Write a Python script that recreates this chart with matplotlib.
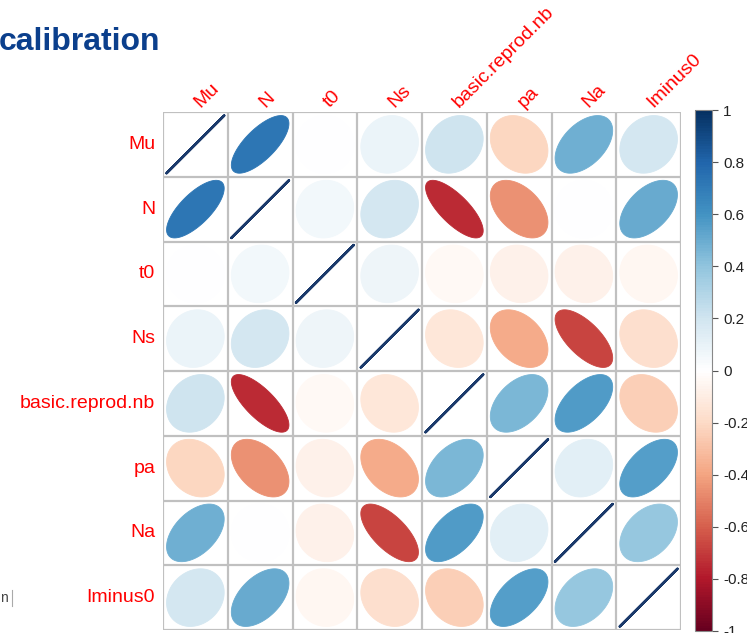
import numpy as np
import matplotlib
matplotlib.use("Agg")
import matplotlib.pyplot as plt
from matplotlib.colors import LinearSegmentedColormap, Normalize
from matplotlib.patches import Polygon
from matplotlib.colorbar import ColorbarBase

plt.rcParams['font.family'] = ['Liberation Sans', 'DejaVu Sans']

labels = ["Mu", "N", "t0", "Ns", "basic.reprod.nb", "pa", "Na", "Iminus0"]

row_mu      = [1.00,  0.72,  0.00,  0.08,  0.20, -0.22,  0.48,  0.18]
row_n       = [0.72,  1.00,  0.05,  0.18, -0.75, -0.46,  0.00,  0.50]
row_t0      = [0.00,  0.05,  1.00,  0.07, -0.04, -0.08, -0.08, -0.05]
row_ns      = [0.08,  0.18,  0.07,  1.00, -0.14, -0.38, -0.67, -0.18]
row_basic   = [0.20, -0.75, -0.04, -0.14,  1.00,  0.45,  0.57, -0.25]
row_pa      = [-0.22, -0.46, -0.08, -0.38,  0.45,  1.00,  0.12,  0.55]
row_na      = [0.48,  0.00, -0.08, -0.67,  0.57,  0.12,  1.00,  0.38]
row_iminus0 = [0.18,  0.50, -0.05, -0.18, -0.25,  0.55,  0.38,  1.00]

corr = np.array([row_mu, row_n, row_t0, row_ns, row_basic, row_pa, row_na, row_iminus0])

cbar_ticks = [-1, -0.8, -0.6, -0.4, -0.2, 0, 0.2, 0.4, 0.6, 0.8, 1]

palette = ["#67001F", "#B2182B", "#D6604D", "#F4A582", "#FDDBC7", "#FFFFFF",
           "#D1E5F0", "#92C5DE", "#4393C3", "#2166AC", "#053061"]
cmap = LinearSegmentedColormap.from_list("rdbu2", palette, N=200)
norm = Normalize(-1, 1)

W, H = 747, 633
fig = plt.figure(figsize=(W / 100, H / 100), dpi=100)

# title fragment
fig.text(-0.002, 1 - 42 / H, "calibration", fontsize=23, fontweight="bold",
         color="#0B3F8C", ha="left", va="center")
# footer fragment
fig.text(0.0, 1 - 598 / H, "n", fontsize=10, color="#444444", ha="left", va="center")
fig.add_artist(plt.Line2D([12 / W, 12 / W], [1 - 590 / H, 1 - 606 / H],
                          color="#AAAAAA", lw=0.8))

n = len(labels)
ax = fig.add_axes([163 / W, 1 - 630 / H, 518 / W, 518 / H])
ax.set_xlim(0, n)
ax.set_ylim(0, n)
ax.set_axis_off()

SCALE = 0.89


def ellipse(rho, cx, cy, npts=121):
    k = np.linspace(0, 2 * np.pi, npts)
    d = np.arccos(np.clip(rho, -1, 1))
    x = np.cos(k + d / 2) / 2 * SCALE
    y = np.cos(k - d / 2) / 2 * SCALE
    return np.column_stack([cx + x, cy + y])


for i in range(n):
    for j in range(n):
        rho = corr[i, j]
        cx = j + 0.5
        cy = n - i - 0.5
        col = cmap(norm(rho))
        pts = ellipse(rho, cx, cy)
        if abs(rho) > 0.995:
            ax.plot(pts[:, 0], pts[:, 1], color="#1B3A6B", lw=1.8, solid_capstyle="round")
        else:
            ax.add_patch(Polygon(pts, closed=True, facecolor=col, edgecolor=col, lw=0.6))

# grid lines
for k in range(n + 1):
    ax.plot([k, k], [0, n], color="#C0C0C0", lw=1.6, zorder=3)
    ax.plot([0, n], [k, k], color="#C0C0C0", lw=1.6, zorder=3)

# labels
for i, lab in enumerate(labels):
    ax.text(-0.12, n - i - 0.5, lab, color="#FF0000", fontsize=14,
            ha="right", va="center", clip_on=False)
    ax.text(i + 0.62, n + 0.02, lab, color="#FF0000", fontsize=14, rotation=45,
            rotation_mode="anchor", ha="left", va="bottom", clip_on=False)

# colour legend
cax = fig.add_axes([695 / W, 1 - 631 / H, 17 / W, 521 / H])
cb = ColorbarBase(cax, cmap=cmap, norm=norm, orientation="vertical", ticks=cbar_ticks)
cb.outline.set_edgecolor("#888888")
cb.outline.set_linewidth(0.8)
cax.set_yticklabels([("%g" % t) for t in cbar_ticks])
cax.tick_params(axis="y", length=4, width=0.8, color="#555555", labelsize=11,
                labelcolor="#222222", pad=4)

fig.savefig("out.png", dpi=100)
